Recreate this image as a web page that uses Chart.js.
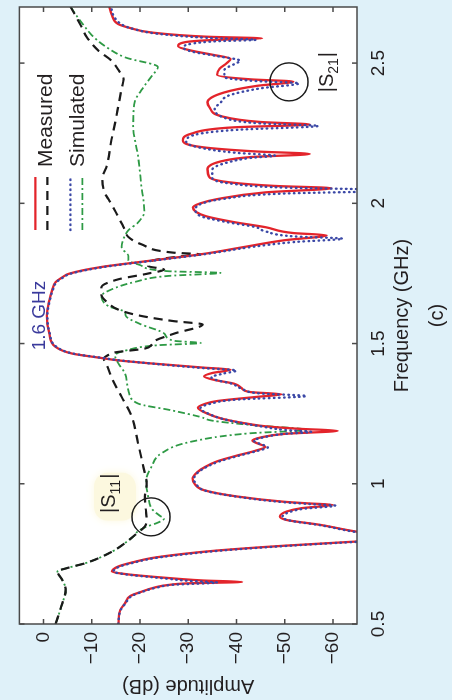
<!DOCTYPE html>
<html>
<head>
<meta charset="utf-8">
<script src="https://cdn.jsdelivr.net/npm/chart.js@4.4.1/dist/chart.umd.min.js"></script>
<style>
html,body{margin:0;padding:0;background:#dff1f9;overflow:hidden;width:452px;height:700px;}
#wrap{position:absolute;left:0;top:0;width:700px;height:452px;transform-origin:0 0;transform:translate(0,700px) rotate(-90deg);}
</style>
</head>
<body>
<div id="wrap"><canvas id="myChart" width="700" height="452"></canvas></div>
<script>
// tick values
var freqTicks = [0.5, 1, 1.5, 2, 2.5];
var ampTicks = [0, -10, -20, -30, -40, -50, -60];

// |S21| measured (red solid)
var s21MeasFreq = [0.50,0.55,0.574,0.60,0.615,0.63,0.639,0.645,0.650,0.655,0.661,0.667,0.677,0.687,0.705,0.72,0.735,0.75,0.762,0.779,0.794,0.805,0.818,0.83,0.854,0.871,0.883,0.901,0.913,0.925,0.93,0.936,0.955,0.977,1.0,1.019,1.04,1.06,1.08,1.10,1.118,1.132,1.143,1.154,1.165,1.178,1.189,1.196,1.205,1.215,1.232,1.25,1.271,1.285,1.295,1.31,1.319,1.327,1.342,1.357,1.37,1.383,1.395,1.407,1.414,1.429,1.44,1.45,1.464,1.488,1.536,1.6,1.654,1.69,1.719,1.735,1.749,1.773,1.796,1.82,1.844,1.868,1.886,1.894,1.915,1.933,1.955,1.985,2.0,2.015,2.039,2.054,2.062,2.075,2.093,2.122,2.152,2.165,2.176,2.185,2.2,2.224,2.248,2.271,2.281,2.29,2.31,2.343,2.36,2.395,2.419,2.434,2.442,2.458,2.48,2.50,2.515,2.53,2.545,2.56,2.575,2.583,2.588,2.594,2.609,2.625,2.639,2.67,2.71];
var s21MeasAmp = [-15.5,-15.9,-16.9,-18,-20.3,-23,-25.8,-30,-41.2,-33.3,-28,-23.7,-17.5,-14.2,-15.5,-18.5,-22.4,-29,-36,-49.8,-64.8,-78,-70,-64.7,-57.2,-50.4,-49,-50.4,-53.5,-60,-55,-49.8,-40,-33.3,-31.3,-30.9,-31.8,-33.5,-36,-40,-44,-46,-44.5,-43.3,-45,-50,-61,-53,-46,-42,-37,-34,-32,-33.5,-36,-44.3,-49.4,-42.9,-41,-39.5,-35.5,-33.3,-35,-38.8,-33.3,-22.4,-15.5,-11.4,-6,-2.5,-1.2,-0.7,-1.2,-1.8,-2.5,-3.8,-5.3,-12,-22.4,-33.3,-41.5,-49.8,-58.7,-51.8,-46,-39.5,-33.5,-31,-32.5,-36,-46,-59.7,-48,-38.5,-34.4,-34,-37.4,-43,-55.2,-44,-33,-28.9,-30.6,-39.5,-55.2,-45,-37,-34.4,-34,-37.4,-44.3,-51.8,-43,-36,-36.5,-38,-38.8,-35,-30.5,-27.9,-29.5,-36,-45.3,-34,-22.4,-18,-15.5,-14.2,-13.5];

// |S21| simulated (blue dotted)
var s21SimFreq = [0.50,0.55,0.574,0.60,0.615,0.63,0.64,0.648,0.654,0.661,0.667,0.677,0.687,0.705,0.72,0.735,0.75,0.762,0.779,0.792,0.803,0.816,0.828,0.852,0.869,0.881,0.899,0.911,0.922,0.928,0.934,0.953,0.975,1.0,1.017,1.04,1.06,1.08,1.10,1.118,1.13,1.143,1.154,1.165,1.178,1.185,1.192,1.205,1.215,1.232,1.25,1.268,1.285,1.30,1.313,1.322,1.34,1.357,1.37,1.38,1.392,1.404,1.412,1.428,1.44,1.45,1.464,1.488,1.536,1.6,1.654,1.69,1.719,1.735,1.749,1.773,1.796,1.82,1.844,1.862,1.874,1.882,1.90,1.915,1.933,1.955,1.98,2.0,2.015,2.035,2.046,2.056,2.07,2.09,2.12,2.145,2.162,2.17,2.18,2.20,2.22,2.245,2.262,2.276,2.285,2.305,2.34,2.355,2.385,2.41,2.428,2.436,2.45,2.475,2.50,2.508,2.525,2.54,2.555,2.57,2.578,2.583,2.59,2.605,2.62,2.635,2.67,2.71];
var s21SimAmp = [-15.5,-16,-17,-18.3,-20.5,-23.5,-27,-36,-30,-26,-22.5,-17,-14.5,-15.8,-19,-23,-30,-37,-51,-64,-78,-70,-64.7,-57.5,-51,-49.5,-51,-54,-60.5,-55,-50,-40.5,-33.6,-31.6,-31.2,-32,-33.8,-36.5,-40.5,-44.5,-46.5,-44.8,-43.6,-45.5,-50,-55.5,-50,-45,-41.5,-37,-34.2,-32.5,-34.5,-40,-54.5,-45,-41,-39,-35.8,-34.8,-37,-40,-33.5,-22.8,-15.8,-11.7,-6.2,-2.7,-1.3,-0.8,-1.3,-1.9,-2.7,-4,-5.6,-12.5,-23,-34,-43,-52,-62,-52,-46,-44,-38,-32.5,-31.5,-33,-37,-50,-75,-50,-39,-35,-35,-38,-43,-48,-40,-32,-29.6,-31.5,-40,-57,-45,-37.5,-35.5,-36.5,-38.5,-45,-53,-44,-37.5,-37.5,-40,-40.8,-36,-31,-29,-31,-36,-44,-34,-23.5,-19,-16.5,-14.5,-14];

// |S11| measured (black dashed)
var s11MeasFreq = [0.50,0.574,0.621,0.657,0.687,0.70,0.717,0.758,0.79,0.818,0.848,0.871,0.91,0.954,1.0,1.06,1.144,1.239,1.31,1.371,1.42,1.446,1.46,1.468,1.482,1.495,1.509,1.536,1.568,1.58,1.592,1.605,1.621,1.65,1.675,1.70,1.729,1.749,1.764,1.776,1.794,1.81,1.818,1.824,1.854,1.88,1.907,1.928,1.968,2.014,2.033,2.087,2.138,2.218,2.30,2.346,2.41,2.443,2.471,2.51,2.544,2.592,2.632,2.67,2.71];
var s11MeasAmp = [-2.5,-3.9,-4.6,-3.9,-2.9,-5,-8.7,-14.2,-17,-19,-21,-21.4,-21.2,-21,-21.4,-20.7,-19.6,-18.3,-16.2,-14.3,-13.2,-12.5,-13.5,-14.7,-21,-22.4,-23,-27.2,-33,-27,-22.3,-18.5,-15.5,-13,-12,-12,-15.5,-21.5,-25,-21.7,-22.3,-28,-32.6,-27,-20.3,-17.6,-16.8,-16.2,-15,-13.5,-12.8,-12.2,-13.2,-14,-15,-15.5,-16.2,-16.6,-15.7,-14,-11.4,-9,-7.8,-6.6,-5.3];

// |S11| simulated (green dash-dot)
var s11SimFreq = [0.50,0.574,0.621,0.657,0.687,0.70,0.717,0.758,0.79,0.818,0.83,0.848,0.86,0.876,0.885,0.91,0.954,1.013,1.061,1.108,1.15,1.18,1.192,1.21,1.225,1.238,1.262,1.286,1.333,1.393,1.43,1.458,1.475,1.494,1.502,1.51,1.536,1.57,1.60,1.612,1.633,1.669,1.693,1.72,1.741,1.752,1.758,1.78,1.796,1.811,1.844,1.87,1.904,1.93,1.971,2.061,2.168,2.275,2.36,2.418,2.455,2.486,2.52,2.561,2.60,2.629,2.67,2.71];
var s11SimAmp = [-2.5,-3.9,-4.6,-3.9,-2.9,-5,-8.7,-14.2,-17,-19,-19.5,-21.5,-23.5,-25,-24.2,-22.5,-21.7,-21.3,-22.4,-24.4,-30.6,-42.8,-54.5,-42.8,-35,-32.6,-26.5,-19.6,-17.6,-16.9,-15.5,-14.8,-17,-23.7,-32.6,-27,-25,-20,-17,-16.9,-13.5,-12,-14.1,-19,-25.8,-36.7,-25.8,-20,-17.6,-17.6,-16.2,-16.5,-17.6,-19.5,-20.9,-20.3,-19.6,-18.6,-18.9,-20.9,-22.5,-23.7,-17,-12.7,-10,-8.6,-6.8,-5.3];

function pts(f, a) {
    return f.map(function(v, i) { return {x: v, y: a[i]}; });
}

var fontFam = '"Liberation Sans", Arial, sans-serif';
var textCol = '#231f20';

var decor = {
    id: 'decor',
    beforeDatasetsDraw: function(chart) {
        var c = chart.ctx, a = chart.chartArea, xs = chart.scales.x, ys = chart.scales.y;
        c.save();
        c.fillStyle = '#ffffff';
        c.fillRect(a.left, a.top, a.right - a.left, a.bottom - a.top);
        // soft yellow patch behind |S11|
        var px = xs.getPixelForValue(0.954), py = ys.getPixelForValue(-14.8);
        c.fillStyle = '#fcf8df';
        c.shadowColor = '#fcf8df';
        c.shadowBlur = 8;
        c.beginPath();
        c.roundRect(px - 24, py - 21, 48, 42, 14);
        c.fill();
        c.restore();
    },
    afterDraw: function(chart) {
        var c = chart.ctx, a = chart.chartArea, xs = chart.scales.x, ys = chart.scales.y;
        c.save();
        // frame
        c.strokeStyle = '#4a4a4a';
        c.lineWidth = 1.5;
        c.strokeRect(a.left, a.top, a.right - a.left, a.bottom - a.top);
        // inner ticks
        c.beginPath();
        freqTicks.forEach(function(v) {
            var x = xs.getPixelForValue(v);
            c.moveTo(x, a.top); c.lineTo(x, a.top + 5);
            c.moveTo(x, a.bottom); c.lineTo(x, a.bottom - 5);
        });
        ampTicks.forEach(function(v) {
            var y = ys.getPixelForValue(v);
            c.moveTo(a.left, y); c.lineTo(a.left + 5, y);
            c.moveTo(a.right, y); c.lineTo(a.right - 5, y);
        });
        c.stroke();

        // legend
        var lx0 = a.left + 394, lx1 = a.left + 447;
        function sample(y, col, w, dash, cap) {
            c.beginPath();
            c.strokeStyle = col; c.lineWidth = w; c.setLineDash(dash); c.lineCap = cap;
            c.moveTo(lx0, y); c.lineTo(lx1, y); c.stroke();
        }
        sample(a.top + 16, '#e3242b', 2.4, [], 'butt');
        sample(a.top + 28, '#1a1a1a', 2.2, [9, 6], 'butt');
        sample(a.top + 51, '#3b48a6', 2.4, [0.5, 4.5], 'round');
        sample(a.top + 63, '#2e9a45', 1.8, [7, 3, 2, 3], 'butt');
        c.setLineDash([]);
        c.lineCap = 'butt';
        c.fillStyle = textCol;
        c.font = '21px ' + fontFam;
        c.textBaseline = 'alphabetic';
        c.textAlign = 'left';
        c.fillText('Measured', a.left + 457, a.top + 33);
        c.fillText('Simulated', a.left + 457, a.top + 65);

        // 1.6 GHz label
        c.fillStyle = '#3a3a9c';
        c.font = '19px ' + fontFam;
        c.textAlign = 'center';
        c.fillText('1.6 GHz', xs.getPixelForValue(1.6), ys.getPixelForValue(-0.3));

        // |S11| and |S21| labels
        function sLabel(f, amp, sub) {
            var x = xs.getPixelForValue(f), y = ys.getPixelForValue(amp);
            c.fillStyle = textCol;
            c.textAlign = 'left';
            c.font = '20px ' + fontFam;
            c.fillText('|S', x, y);
            x += c.measureText('|S').width;
            c.font = '14px ' + fontFam;
            c.fillText(sub, x, y + 5);
            x += c.measureText(sub).width + 1;
            c.font = '20px ' + fontFam;
            c.fillText('|', x, y);
        }
        sLabel(0.896, -14.9, '11');
        sLabel(2.396, -60.1, '21');

        // circles
        c.strokeStyle = '#1a1a1a';
        c.lineWidth = 1.4;
        [[0.882, -22.3], [2.433, -50.9]].forEach(function(p) {
            c.beginPath();
            c.arc(xs.getPixelForValue(p[0]), ys.getPixelForValue(p[1]), 19, 0, Math.PI * 2);
            c.stroke();
        });
        c.restore();
    }
};

Chart.defaults.font.family = fontFam;

var ctx = document.getElementById('myChart').getContext('2d');
var myChart = new Chart(ctx, {
    type: 'scatter',
    data: {
        datasets: [{
            label: 'Simulated |S21|',
            data: pts(s21SimFreq, s21SimAmp),
            showLine: true,
            borderColor: '#3b48a6',
            borderWidth: 2.4,
            borderDash: [0.5, 4.5],
            borderCapStyle: 'round'
        }, {
            label: 'Measured |S21|',
            data: pts(s21MeasFreq, s21MeasAmp),
            showLine: true,
            borderColor: '#e3242b',
            borderWidth: 2.3
        }, {
            label: 'Measured |S11|',
            data: pts(s11MeasFreq, s11MeasAmp),
            showLine: true,
            borderColor: '#1a1a1a',
            borderWidth: 2.2,
            borderDash: [9, 6]
        }, {
            label: 'Simulated |S11|',
            data: pts(s11SimFreq, s11SimAmp),
            showLine: true,
            borderColor: '#2e9a45',
            borderWidth: 1.8,
            borderDash: [7, 3, 2, 3]
        }]
    },
    options: {
        responsive: false,
        animation: false,
        devicePixelRatio: 1,
        layout: { padding: { top: 17, right: 7, left: 0, bottom: 0 } },
        elements: {
            point: { radius: 0, hoverRadius: 0 },
            line: { cubicInterpolationMode: 'monotone' }
        },
        plugins: {
            legend: { display: false },
            tooltip: { enabled: false }
        },
        scales: {
            x: {
                type: 'linear',
                min: 0.5,
                max: 2.7,
                afterBuildTicks: function(s) { s.ticks = freqTicks.map(function(v) { return {value: v}; }); },
                afterFit: function(s) { s.height = 95; },
                grid: { display: false, drawTicks: false },
                border: { display: false },
                ticks: {
                    color: textCol,
                    font: { size: 19 },
                    padding: 10,
                    maxRotation: 0,
                    callback: function(v) { return String(v); }
                },
                title: {
                    display: true,
                    text: ['Frequency (GHz)', '(c)'],
                    color: textCol,
                    font: { size: 20, lineHeight: 1.75 },
                    padding: { top: 0, bottom: -3 }
                }
            },
            y: {
                type: 'linear',
                min: -65,
                max: 5,
                afterBuildTicks: function(s) { s.ticks = ampTicks.map(function(v) { return {value: v}; }); },
                afterFit: function(s) { s.width = 76; },
                grid: { display: false, drawTicks: false },
                border: { display: false },
                ticks: {
                    color: textCol,
                    font: { size: 19 },
                    padding: 8,
                    callback: function(v) { return v < 0 ? '\u2212' + Math.abs(v) : String(v); }
                },
                title: {
                    display: true,
                    text: 'Amplitude (dB)',
                    color: textCol,
                    font: { size: 20 },
                    padding: { top: 2, bottom: 0 }
                }
            }
        }
    },
    plugins: [decor]
});
</script>
</body>
</html>
